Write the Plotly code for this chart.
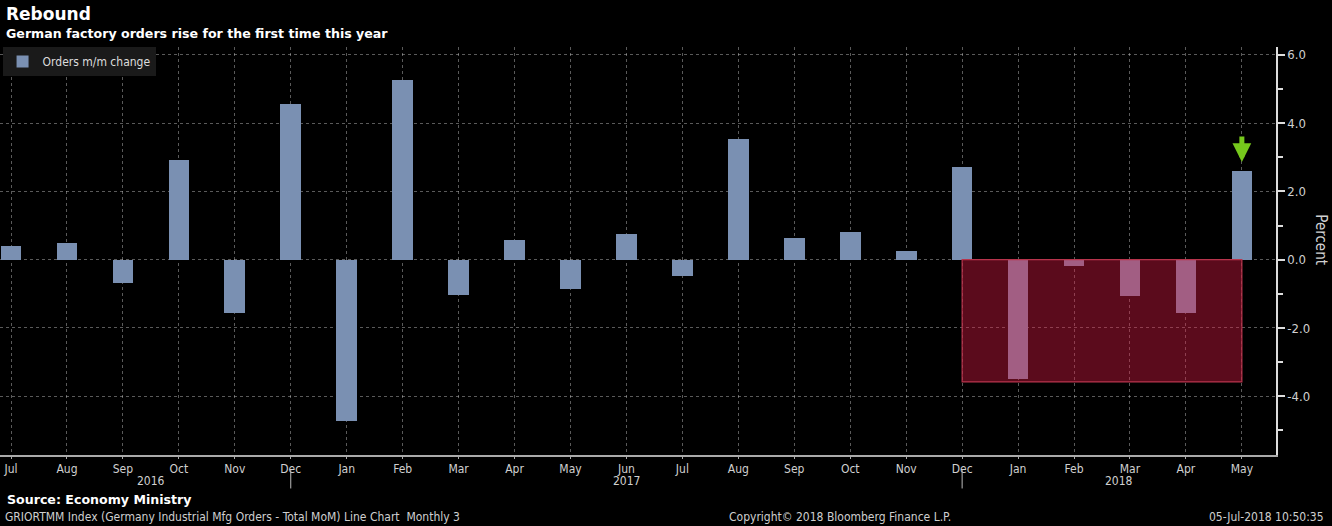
import plotly.graph_objects as go

months = ["Jul", "Aug", "Sep", "Oct", "Nov", "Dec",
          "Jan", "Feb", "Mar", "Apr", "May", "Jun", "Jul", "Aug", "Sep", "Oct", "Nov", "Dec",
          "Jan", "Feb", "Mar", "Apr", "May"]
orders_mm = [0.41, 0.49, -0.69, 2.92, -1.56, 4.56,
             -4.71, 5.26, -1.02, 0.58, -0.85, 0.76, -0.47, 3.54, 0.64, 0.82, 0.26, 2.72,
             -3.50, -0.19, -1.07, -1.56, 2.61]
years = ["2016", "2017", "2018"]
year_label_pos = [2.5, 11, 19.8]   # month index of each year label
year_separators = [5, 17]
highlight_start, highlight_end = 17, 22
highlight_low = -3.58
y_ticks = [6, 4, 2, 0, -2, -4]

x_idx = list(range(len(months)))

fig = go.Figure()
fig.add_trace(go.Bar(
    x=x_idx, y=orders_mm, width=0.37,
    marker=dict(color="#7a90b2", line=dict(width=0)),
    name="Orders m/m change", showlegend=True,
))

# highlighted box
fig.add_shape(type="rect", xref="x", yref="y",
              x0=highlight_start, x1=highlight_end, y0=0, y1=highlight_low,
              fillcolor="rgba(217,26,67,0.42)", line=dict(color="#b8344c", width=1.2),
              layer="above")

# year separators
for s in year_separators:
    fig.add_shape(type="line", xref="x", yref="paper", x0=s, x1=s, y0=-0.035, y1=-0.082,
                  line=dict(color="#bbbbbb", width=1))

annotations = []
for yr, pos in zip(years, year_label_pos):
    annotations.append(dict(x=pos, y=-0.064, xref="x", yref="paper", yanchor="middle",
                            text=yr, showarrow=False, font=dict(size=12, color="#d0d0d0")))

# green arrow above the latest bar
annotations.append(dict(x=x_idx[-1], y=orders_mm[-1] + 0.25, xref="x", yref="y",
                        ax=0, ay=-27, text="", showarrow=True, arrowhead=2, arrowsize=0.75,
                        arrowwidth=5, arrowcolor="#76c81c"))

annotations += [
    dict(x=0.003, y=1.081, xref="paper", yref="paper", xanchor="left", yanchor="middle",
         text="<b>Rebound</b>", showarrow=False,
         font=dict(family="DejaVu Sans", size=17, color="white")),
    dict(x=0.003, y=1.034, xref="paper", yref="paper", xanchor="left", yanchor="middle",
         text="<b>German factory orders rise for the first time this year</b>", showarrow=False,
         font=dict(family="DejaVu Sans", size=12.6, color="white")),
    dict(x=1.035, y=0.527, xref="paper", yref="paper", xanchor="center", yanchor="middle",
         text="Percent", textangle=90,
         showarrow=False, font=dict(size=15, color="#d0d0d0")),
    dict(x=0.004, y=-0.108, xref="paper", yref="paper", xanchor="left", yanchor="middle",
         text="<b>Source: Economy Ministry</b>", showarrow=False,
         font=dict(family="DejaVu Sans", size=12.6, color="white")),
    dict(x=0.002, y=-0.152, xref="paper", yref="paper", xanchor="left", yanchor="middle",
         text="GRIORTMM Index (Germany Industrial Mfg Orders - Total MoM) Line Chart  Monthly 3",
         showarrow=False, font=dict(size=12, color="#cfcfcf")),
    dict(x=0.57, y=-0.152, xref="paper", yref="paper", xanchor="left", yanchor="middle",
         text="Copyright\u00a9 2018 Bloomberg Finance L.P.",
         showarrow=False, font=dict(size=12, color="#cfcfcf")),
    dict(x=1.039, y=-0.152, xref="paper", yref="paper", xanchor="right", yanchor="middle",
         text="05-Jul-2018 10:50:35",
         showarrow=False, font=dict(size=12, color="#cfcfcf")),
]

grid = dict(gridcolor="rgba(200,200,200,0.45)", griddash="3px,3px", gridwidth=1)

fig.update_layout(
    width=1332, height=526,
    paper_bgcolor="black", plot_bgcolor="black",
    margin=dict(l=0, r=56, t=47, b=71),
    font=dict(family="Liberation Sans Narrow, DejaVu Sans Condensed, Arial Narrow, sans-serif",
              size=12, color="#d0d0d0"),
    bargap=0,
    showlegend=True,
    legend=dict(x=0.002, y=1.0, xanchor="left", yanchor="top", bgcolor="#1a1a1a",
                font=dict(size=12, color="#dddddd"), borderwidth=0, itemwidth=30),
    annotations=annotations,
    xaxis=dict(range=[-0.197, 22.61], tickmode="array", tickvals=x_idx, ticktext=months,
               showline=True, linecolor="#aaaaaa", linewidth=2, zeroline=False,
               ticks="outside", ticklen=2, tickcolor="#aaaaaa", tickfont=dict(size=12, color="#d0d0d0"),
               **grid),
    yaxis=dict(side="right", range=[-5.72, 6.23], tickmode="array", tickvals=y_ticks,
               ticktext=[f"{v:.1f}" for v in y_ticks],
               showline=True, linecolor="#dddddd", linewidth=1.5, zeroline=False,
               ticks="outside", ticklen=7, tickwidth=2, tickcolor="#dddddd",
               tickfont=dict(size=13, color="#d0d0d0"),
               minor=dict(tickvals=[5, 3, 1, -1, -3, -5], ticks="outside", ticklen=5,
                          tickcolor="#dddddd", showgrid=False),
               **grid),
)

fig.write_html("out.html", config={"displayModeBar": False},
               post_script="document.body.style.margin='0';document.body.style.overflow='hidden';")
